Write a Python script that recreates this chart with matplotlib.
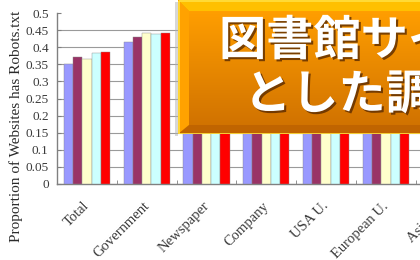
import numpy as np
import matplotlib
matplotlib.use('Agg')
import matplotlib.pyplot as plt
import matplotlib.patheffects as pe
import matplotlib.transforms as mtrans
from matplotlib.patches import Rectangle, Polygon

# categories and series (hidden ones estimated)
categories = ['Total', 'Government', 'Newspaper', 'Company', 'USA U.', 'European U.', 'Asian U.']
series_names = ['s1', 's2', 's3', 's4', 's5']
s1 = [0.350, 0.415, 0.330, 0.300, 0.360, 0.280, 0.250]
s2 = [0.372, 0.431, 0.360, 0.330, 0.390, 0.310, 0.280]
s3 = [0.365, 0.441, 0.350, 0.320, 0.400, 0.300, 0.270]
s4 = [0.384, 0.440, 0.370, 0.340, 0.410, 0.330, 0.300]
s5 = [0.386, 0.441, 0.380, 0.350, 0.420, 0.340, 0.310]
colors = ['#9999FF', '#993366', '#FFFFCC', '#CCFFFF', '#FF0000']
title_lines = ['図書館サイト', 'とした調査']

W, H = 420, 260
fig = plt.figure(figsize=(W / 100, H / 100), dpi=100)

# chart axes (extends past the right edge, as in the cropped original)
gw = 59.8
ax = fig.add_axes([57 / W, 76 / H, len(categories) * gw / W, 171 / H])
x = np.arange(len(categories))
bw = 0.155
for i, vals in enumerate([s1, s2, s3, s4, s5]):
    ax.bar(x + (i - 2) * bw, vals, bw, color=colors[i], edgecolor='#8a8a8a',
           linewidth=0.3, label=series_names[i], zorder=3)

ax.set_xlim(-0.5, len(categories) - 0.5)
ax.set_ylim(0, 0.5)
yt = np.arange(0, 0.51, 0.05)
ax.set_yticks(yt)
ax.set_yticklabels(['0' if v == 0 else ('%g' % round(v, 2)) for v in yt],
                   family='Liberation Serif', fontsize=9.5, color='#3a3a3a')
ax.yaxis.grid(True, color='#9a9a9a', linewidth=0.8, zorder=0)
ax.get_ygridlines()[-1].set_visible(False)
ax.set_axisbelow(True)
ax.tick_params(axis='y', direction='in', length=3, color='#808080', pad=6)

ax.set_xticks(x)
ax.set_xticklabels(categories, rotation=45, ha='right', rotation_mode='anchor',
                   family='Liberation Serif', fontsize=10.5, color='#3a3a3a')
ax.tick_params(axis='x', which='major', length=0, pad=11)
shift = mtrans.ScaledTranslation(-4 / 100, 0, fig.dpi_scale_trans)
for lab in ax.get_xticklabels():
    lab.set_transform(lab.get_transform() + shift)
ax.set_xticks(np.arange(len(categories)) + 0.5, minor=True)
ax.tick_params(axis='x', which='minor', direction='in', length=3, color='#808080')

for s in ['top', 'right']:
    ax.spines[s].set_visible(False)
for s in ['left', 'bottom']:
    ax.spines[s].set_color('#808080')
    ax.spines[s].set_linewidth(1.0)

fig.text(16 / W, 1 - 126 / H, 'Proportion of Websites has Robots.txt', rotation=90,
         ha='center', va='center', family='Liberation Serif', fontsize=11, color='#2a2a2a')

# orange banner on top of the chart
bx0, by1 = 178, 134
bax = fig.add_axes([bx0 / W, 1 - by1 / H, (440 - bx0) / W, by1 / H])
bax.set_xlim(0, 440 - bx0)
bax.set_ylim(by1, 0)
bax.axis('off')
bw_px = 440 - bx0
# soft shadow
bax.add_patch(Rectangle((-3, 2), 3, by1, color='#b0b0b0', alpha=0.5, lw=0, clip_on=False))
bax.add_patch(Rectangle((0, 0), bw_px, by1, color='#F0A000', lw=0))
# bevels
bev = 11
bax.add_patch(Polygon([(0, 0), (bw_px, 0), (bw_px, bev), (bev, bev)], color='#FFC000', lw=0))
bax.add_patch(Polygon([(0, 0), (bev, bev), (bev, by1 - 9), (0, by1)], color='#FFA200', lw=0))
bax.add_patch(Polygon([(0, by1), (bev, by1 - 9), (bw_px, by1 - 9), (bw_px, by1)], color='#C06400', lw=0))
# inner gradient
grad = np.linspace(0, 1, 100).reshape(-1, 1)
top = np.array([1.0, 0.62, 0.0])
bot = np.array([0.82, 0.45, 0.0])
img = top[None, None, :] * (1 - grad[:, :, None]) + bot[None, None, :] * grad[:, :, None]
bax.imshow(img, extent=(bev, bw_px, by1 - 9, bev), aspect='auto', zorder=1)
bax.add_patch(Rectangle((0.5, 0.5), bw_px, by1 - 1, fill=False, ec='#FFE040', lw=1.2, zorder=2))

fx = [pe.SimplePatchShadow(offset=(1.5, -1.5), shadow_rgbFace='#5a2a00', alpha=0.8), pe.Normal()]
bax.text(219 - bx0, 41, title_lines[0], ha='left', va='center', color='white', fontsize=34,
         fontweight='bold', family=['Noto Sans CJK JP', 'DejaVu Sans'], path_effects=fx, zorder=3)
bax.text(244 - bx0, 95, title_lines[1], ha='left', va='center', color='white', fontsize=34,
         fontweight='bold', family=['Noto Sans CJK JP', 'DejaVu Sans'], path_effects=fx, zorder=3)

fig.savefig('out.png', dpi=100)
